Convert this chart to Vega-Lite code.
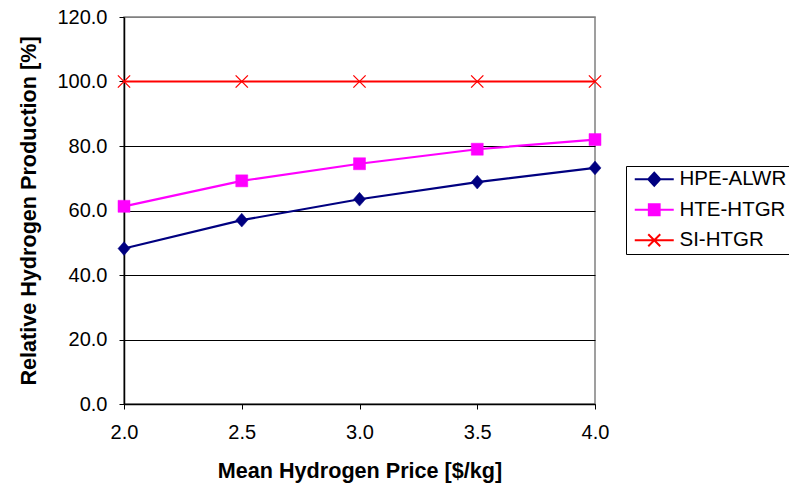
{
  "$schema": "https://vega.github.io/schema/vega-lite/v6.json",
  "width": 471,
  "height": 387,
  "autosize": {"type": "none"},
  "padding": {"left": 124, "top": 17, "right": 194, "bottom": 81},
  "background": "white",
  "config": {
    "font": "Liberation Sans",
    "view": {"stroke": "#808080", "strokeWidth": 1.5},
    "axis": {
      "labelFont": "Liberation Sans",
      "labelFontSize": 20,
      "labelColor": "black",
      "titleFont": "Liberation Sans",
      "titleFontSize": 21.6,
      "titleFontWeight": "bold",
      "titleColor": "black",
      "domainColor": "black",
      "domainWidth": 1.5,
      "tickColor": "black",
      "tickSize": 5,
      "tickWidth": 1
    }
  },
  "data": {
    "values": [
      {"price": 2.0, "series": "HPE-ALWR", "value": 48.2},
      {"price": 2.5, "series": "HPE-ALWR", "value": 57.0},
      {"price": 3.0, "series": "HPE-ALWR", "value": 63.5},
      {"price": 3.5, "series": "HPE-ALWR", "value": 68.8},
      {"price": 4.0, "series": "HPE-ALWR", "value": 73.2},
      {"price": 2.0, "series": "HTE-HTGR", "value": 61.3},
      {"price": 2.5, "series": "HTE-HTGR", "value": 69.2},
      {"price": 3.0, "series": "HTE-HTGR", "value": 74.5},
      {"price": 3.5, "series": "HTE-HTGR", "value": 79.0},
      {"price": 4.0, "series": "HTE-HTGR", "value": 82.0},
      {"price": 2.0, "series": "SI-HTGR", "value": 100.0},
      {"price": 2.5, "series": "SI-HTGR", "value": 100.0},
      {"price": 3.0, "series": "SI-HTGR", "value": 100.0},
      {"price": 3.5, "series": "SI-HTGR", "value": 100.0},
      {"price": 4.0, "series": "SI-HTGR", "value": 100.0}
    ]
  },
  "encoding": {
    "x": {
      "field": "price",
      "type": "quantitative",
      "scale": {"domain": [2, 4], "nice": false, "zero": false},
      "axis": {
        "title": "Mean Hydrogen Price [$/kg]",
        "values": [2, 2.5, 3, 3.5, 4],
        "format": ".1f",
        "grid": false,
        "labelPadding": 13,
        "titlePadding": 18,
        "labelFlush": false
      }
    },
    "y": {
      "field": "value",
      "type": "quantitative",
      "scale": {"domain": [0, 120], "nice": false},
      "axis": {
        "title": "Relative Hydrogen Production [%]",
        "values": [0, 20, 40, 60, 80, 100, 120],
        "format": ".1f",
        "grid": true,
        "gridColor": {"condition": {"test": "datum.value == 120", "value": "#808080"}, "value": "black"},
        "gridWidth": 1,
        "labelPadding": 12,
        "titlePadding": 16,
        "labelFlush": false
      }
    }
  },
  "layer": [
    {
      "mark": {"type": "line", "strokeWidth": 2.2},
      "encoding": {
        "color": {
          "field": "series",
          "type": "nominal",
          "scale": {"domain": ["HPE-ALWR", "HTE-HTGR", "SI-HTGR"], "range": ["#000080", "#FF00FF", "#FF0000"]},
          "legend": {
            "title": null,
            "orient": "none",
            "legendX": 502,
            "legendY": 149,
            "strokeColor": "black",
            "padding": 3,
            "fillColor": "white",
            "labelFont": "Liberation Sans",
            "labelFontSize": 20.5,
            "labelColor": "black",
            "labelOffset": 15,
            "symbolOffset": 15,
            "symbolSize": 144,
            "symbolStrokeWidth": 2,
            "rowPadding": 9.5,
            "encode": {
              "symbols": {
                "update": {
                  "shape": {"signal": "datum.value === 'HPE-ALWR' ? 'M-3.25,0H3.25M0,-1.1L1,0L0,1.1L-1,0Z' : datum.value === 'HTE-HTGR' ? 'M-3.25,0H3.25M-0.9,-0.9H0.9V0.9H-0.9Z' : 'M-3.25,0H3.25M-1,-1L1,1M-1,1L1,-1'"},
                  "size": {"value": 144},
                  "strokeWidth": {"value": 2},
                  "fill": {"signal": "scale('color', datum.value)"},
                  "stroke": {"signal": "scale('color', datum.value)"},
                  "opacity": {"value": 1}
                }
              }
            }
          }
        }
      }
    },
    {
      "transform": [{"filter": "datum.series === 'HPE-ALWR'"}],
      "mark": {"type": "point", "shape": "M0,-1.15L1,0L0,1.15L-1,0Z", "filled": true, "size": 144, "color": "#000080", "stroke": "#000080", "strokeWidth": 0.5, "opacity": 1}
    },
    {
      "transform": [{"filter": "datum.series === 'HTE-HTGR'"}],
      "mark": {"type": "point", "shape": "square", "filled": true, "size": 144, "color": "#FF00FF", "stroke": "#FF00FF", "strokeWidth": 0.5, "opacity": 1}
    },
    {
      "transform": [{"filter": "datum.series === 'SI-HTGR'"}],
      "mark": {"type": "point", "shape": "M-1,-1L1,1M-1,1L1,-1", "filled": false, "size": 150, "stroke": "#FF0000", "strokeWidth": 1.3, "opacity": 1}
    }
  ]
}
